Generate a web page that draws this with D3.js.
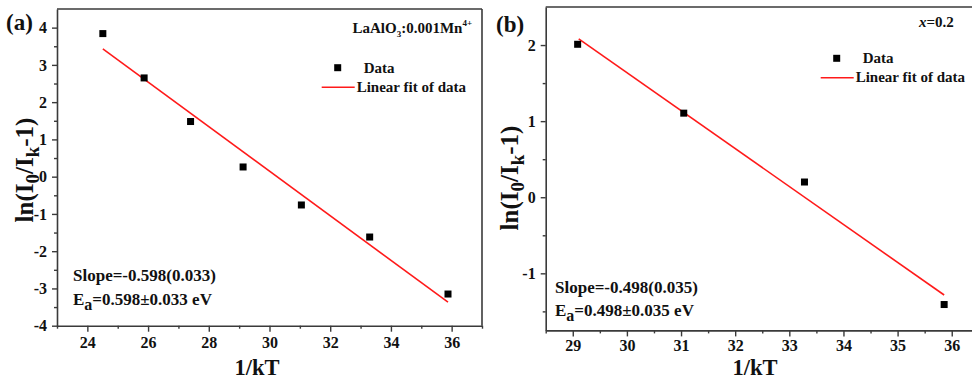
<!DOCTYPE html>
<html>
<head>
<meta charset="utf-8">
<script src="https://cdn.jsdelivr.net/npm/d3@7"></script>
<style>
  html, body { margin: 0; padding: 0; background: #fff; }
  svg { display: block; }
  text { font-family: "Liberation Serif", "Times New Roman", serif; font-weight: bold; fill: #111; }
</style>
</head>
<body>
<script>
// ---------- DATA ----------
const xA = [24.51, 25.87, 27.40, 29.13, 31.05, 33.30, 35.88];
const yA = [3.84, 2.65, 1.48, 0.26, -0.76, -1.62, -3.15];
const fitXA = [24.51, 35.88];
const fitYA = [3.43, -3.37];
const xTicksA = [24, 26, 28, 30, 32, 34, 36];
const xMinorA = [23, 25, 27, 29, 31, 33, 35, 37];
const yTicksA = [-4, -3, -2, -1, 0, 1, 2, 3, 4];
const yMinorA = [-3.5, -2.5, -1.5, -0.5, 0.5, 1.5, 2.5, 3.5];

const xB = [29.09, 31.05, 33.28, 35.86];
const yB = [2.01, 1.105, 0.20, -1.41];
const fitXB = [29.11, 35.86];
const fitYB = [2.08, -1.285];
const xTicksB = [29, 30, 31, 32, 33, 34, 35, 36];
const xMinorB = [28.5, 29.5, 30.5, 31.5, 32.5, 33.5, 34.5, 35.5];
const yTicksB = [-1, 0, 1, 2];
const yMinorB = [-1.5, -0.5, 0.5, 1.5];

// ---------- SVG ----------
const W = 972, H = 380;
const svg = d3.select("body").append("svg").attr("width", W).attr("height", H);
const fmt = d => String(d);
const SERIF = "Liberation Serif, Times New Roman, serif";

function panel(cfg) {
  const g = svg.append("g");
  const x = d3.scaleLinear().domain(cfg.xDomain).range([cfg.left, cfg.right]);
  const y = d3.scaleLinear().domain(cfg.yDomain).range([cfg.bottom, cfg.top]);
  const axisColor = "#3a3a3a";

  // frame (top, right)
  g.append("line").attr("x1", cfg.left).attr("x2", cfg.right).attr("y1", cfg.top).attr("y2", cfg.top)
    .attr("stroke", axisColor).attr("stroke-width", 1.6);
  g.append("line").attr("x1", cfg.right).attr("x2", cfg.right).attr("y1", cfg.top).attr("y2", cfg.bottom)
    .attr("stroke", axisColor).attr("stroke-width", 1.6);

  // bottom axis
  const xAxis = d3.axisBottom(x).tickValues(cfg.xTicks).tickFormat(fmt).tickSize(6).tickPadding(cfg.xPad).tickSizeOuter(0);
  const gx = g.append("g").attr("transform", `translate(0,${cfg.bottom})`).call(xAxis)
    .attr("font-family", SERIF).attr("font-weight", "bold");
  gx.select(".domain").attr("stroke", axisColor).attr("stroke-width", 1.6);
  gx.selectAll(".tick line").attr("stroke", axisColor).attr("stroke-width", 1.4);
  gx.selectAll(".tick text").attr("font-size", 16).attr("fill", "#111");
  const gxm = g.append("g").attr("transform", `translate(0,${cfg.bottom})`)
    .call(d3.axisBottom(x).tickValues(cfg.xMinor).tickSize(3).tickFormat(""));
  gxm.select(".domain").remove();
  gxm.selectAll(".tick line").attr("stroke", axisColor).attr("stroke-width", 1.4);

  // left axis
  const yAxis = d3.axisLeft(y).tickValues(cfg.yTicks).tickFormat(fmt).tickSize(5).tickPadding(5).tickSizeOuter(0);
  const gy = g.append("g").attr("transform", `translate(${cfg.left},0)`).call(yAxis)
    .attr("font-family", SERIF).attr("font-weight", "bold");
  gy.select(".domain").attr("stroke", axisColor).attr("stroke-width", 1.6);
  gy.selectAll(".tick line").attr("stroke", axisColor).attr("stroke-width", 1.4);
  gy.selectAll(".tick text").attr("font-size", 16).attr("fill", "#111");
  const gym = g.append("g").attr("transform", `translate(${cfg.left},0)`)
    .call(d3.axisLeft(y).tickValues(cfg.yMinor).tickSize(3).tickFormat(""));
  gym.select(".domain").remove();
  gym.selectAll(".tick line").attr("stroke", axisColor).attr("stroke-width", 1.4);

  // fit line
  const fitPts = cfg.fitX.map((v, i) => [v, cfg.fitY[i]]);
  g.append("path").datum(fitPts)
    .attr("d", d3.line().x(d => x(d[0])).y(d => y(d[1])))
    .attr("stroke", "#ff1a1a").attr("stroke-width", 1.6).attr("fill", "none");

  // data squares
  const pts = cfg.xs.map((v, i) => [v, cfg.ys[i]]);
  const s = 7;
  g.selectAll("rect.pt").data(pts).join("rect").attr("class", "pt")
    .attr("x", d => x(d[0]) - s / 2).attr("y", d => y(d[1]) - s / 2)
    .attr("width", s).attr("height", s).attr("fill", "#000");

  // panel label
  g.append("text").attr("x", cfg.labelX).attr("y", cfg.labelY).attr("font-size", 23).text(cfg.label);

  // x title
  g.append("text").attr("x", cfg.xTitleX).attr("y", 374.5).attr("text-anchor", "middle")
    .attr("font-size", 22.5).text("1/kT");

  // y title
  const yt = g.append("text").attr("transform", `translate(${cfg.yTitleX},${cfg.yTitleY}) rotate(-90)`)
    .attr("text-anchor", "middle").attr("font-size", 25);
  yt.append("tspan").text("ln(I");
  yt.append("tspan").attr("font-size", 19).attr("dy", 6).text("0");
  yt.append("tspan").attr("dy", -6).text("/I");
  yt.append("tspan").attr("font-size", 19).attr("dy", 6).text("k");
  yt.append("tspan").attr("dy", -6).text("-1)");

  // legend
  g.append("rect").attr("x", cfg.legX + 16 - 3.5).attr("y", cfg.legY - 3.5).attr("width", 7).attr("height", 7).attr("fill", "#000");
  g.append("text").attr("x", cfg.legX + 42).attr("y", cfg.legY + 5).attr("font-size", 15).text("Data");
  g.append("line").attr("x1", cfg.legX).attr("x2", cfg.legX + 33).attr("y1", cfg.legY + 19.5).attr("y2", cfg.legY + 19.5)
    .attr("stroke", "#ff1a1a").attr("stroke-width", 1.6);
  g.append("text").attr("x", cfg.legX + 35).attr("y", cfg.legY + 24).attr("font-size", 15).text("Linear fit of data");

  // slope annotation
  g.append("text").attr("x", cfg.annX).attr("y", cfg.annY).attr("font-size", 17).text(cfg.slopeText);
  const ea = g.append("text").attr("x", cfg.annX).attr("y", cfg.annY + 23.5).attr("font-size", 17);
  ea.append("tspan").text("E");
  ea.append("tspan").attr("dy", 5).attr("font-size", 16).text("a");
  ea.append("tspan").attr("dy", -5).text(cfg.eaText);

  return { g, x, y };
}

const pA = panel({
  xDomain: [23, 37], yDomain: [-4, 4.5],
  left: 57, right: 482, top: 9, bottom: 325.7,
  xTicks: xTicksA, xMinor: xMinorA, yTicks: yTicksA, yMinor: yMinorA, xPad: 4.5,
  xs: xA, ys: yA, fitX: fitXA, fitY: fitYA,
  label: "(a)", labelX: 6, labelY: 30,
  xTitleX: 257, yTitleX: 33, yTitleY: 170,
  legX: 321.7, legY: 67.7,
  annX: 73, annY: 281, slopeText: "Slope=-0.598(0.033)", eaText: "=0.598±0.033 eV"
});

const pB = panel({
  xDomain: [28.5, 36.5], yDomain: [-1.75, 2.5],
  left: 545.7, right: 978.8, top: 7, bottom: 330.4,
  xTicks: xTicksB, xMinor: xMinorB, yTicks: yTicksB, yMinor: yMinorB, xPad: 3,
  xs: xB, ys: yB, fitX: fitXB, fitY: fitYB,
  label: "(b)", labelX: 496, labelY: 32,
  xTitleX: 755, yTitleX: 518, yTitleY: 178,
  legX: 820.7, legY: 58.3,
  annX: 555, annY: 292.5, slopeText: "Slope=-0.498(0.035)", eaText: "=0.498±0.035 eV"
});

// sample annotations
const tA = svg.append("text").attr("x", 352.5).attr("y", 33).attr("font-size", 15);
tA.append("tspan").text("LaAlO");
tA.append("tspan").attr("font-size", 9).attr("dy", 4).text("3");
tA.append("tspan").attr("dy", -4).text(":0.001Mn");
tA.append("tspan").attr("font-size", 9).attr("dy", -7).text("4+");

const tB = svg.append("text").attr("x", 919).attr("y", 27).attr("font-size", 15);
tB.append("tspan").attr("font-style", "italic").text("x");
tB.append("tspan").text("=0.2");
</script>
</body>
</html>
